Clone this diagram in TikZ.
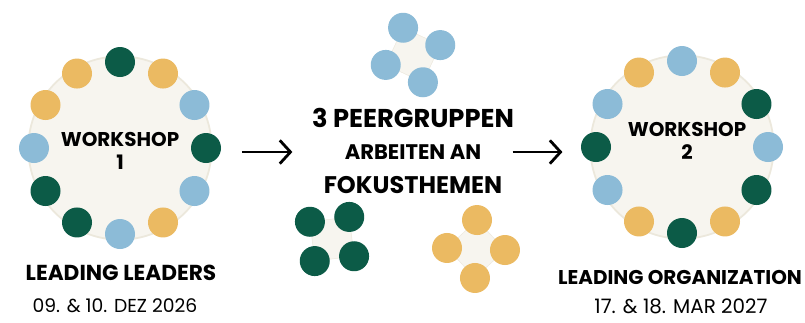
\documentclass[tikz,border=0pt]{standalone}
\usepackage{fontspec}
\setmainfont{Poppins}
\usetikzlibrary{positioning,arrows.meta}

\definecolor{dgreen}{HTML}{0C5B47}
\definecolor{lblue}{HTML}{8CBBD7}
\definecolor{myellow}{HTML}{EBBA62}
\definecolor{cream}{HTML}{F7F5EF}
\definecolor{ringc}{HTML}{ECE8DC}

\tikzset{
  dot/.style={circle, fill=#1, inner sep=0pt, minimum size=0.9cm},
  ringbg/.style={circle, draw=ringc, line width=1.5pt, fill=cream, inner sep=0pt, minimum size=5.5cm},
  arr/.style={line width=2.4pt, -{Straight Barb[length=3.2mm, width=7mm, line width=2.4pt]}},
  title/.style={font=\fontsize{#1}{#1}\selectfont\bfseries, inner sep=1pt},
  date/.style={font=\fontsize{#1}{#1}\selectfont, inner sep=1pt}
}

\begin{document}
\begin{tikzpicture}[x=0.03cm, y=-0.03cm]
      \useasboundingbox[fill=white] (0,0) rectangle (805,322);
      %
      % workshop 1
      \node[ringbg] (ws1) at (120,148) {};
      \foreach \c [count=\i] in {dgreen,myellow,lblue,dgreen,lblue,myellow,lblue,dgreen,dgreen,lblue,myellow,myellow}
        \node[dot=\c] (wa-\i) at ({120+86*cos(120-30*\i)},{148-86*sin(120-30*\i)}) {};
      \node[title=17, align=center] (ws1txt) at (120,151) {WORKSHOP\\[3pt]1};
      \node[title=18.5] (ws1name) at (121,273) {LEADING LEADERS};
      \node[date=16] (ws1date) at (115,306) {09. \& 10. DEZ 2026};
      %
      % workshop 2
      \node[ringbg] (ws2) at (682,147) {};
      \foreach \c [count=\i] in {lblue,myellow,dgreen,lblue,dgreen,myellow,dgreen,myellow,lblue,dgreen,lblue,myellow}
        \node[dot=\c] (wb-\i) at ({682+86*cos(120-30*\i)},{147-86*sin(120-30*\i)}) {};
      \node[title=17, align=center] (ws2txt) at (687,141) {WORKSHOP\\[3pt]2};
      \node[title=17] (ws2name) at (680,277) {LEADING ORGANIZATION};
      \node[date=17] (ws2date) at (681,306) {17. \& 18. MAR 2027};
      %
      % peer groups
      \fill[cream, draw=ringc] ({413+29*cos(20)},{55-29*sin(20)}) -- ({413+29*cos(110)},{55-29*sin(110)}) -- ({413+29*cos(200)},{55-29*sin(200)}) -- ({413+29*cos(290)},{55-29*sin(290)}) -- cycle;
      \foreach \a [count=\i] in {20,110,200,290}
        \node[dot=lblue] (pb-\i) at ({413+29*cos(\a)},{55-29*sin(\a)}) {};
      \fill[cream, draw=ringc] ({332+28*cos(52)},{239-28*sin(52)}) -- ({332+28*cos(142)},{239-28*sin(142)}) -- ({332+28*cos(232)},{239-28*sin(232)}) -- ({332+28*cos(322)},{239-28*sin(322)}) -- cycle;
      \foreach \a [count=\i] in {52,142,232,322}
        \node[dot=dgreen] (pg-\i) at ({332+28*cos(\a)},{239-28*sin(\a)}) {};
      \fill[cream, draw=ringc] ({476+29*cos(-2)},{249-29*sin(-2)}) -- ({476+29*cos(88)},{249-29*sin(88)}) -- ({476+29*cos(178)},{249-29*sin(178)}) -- ({476+29*cos(268)},{249-29*sin(268)}) -- cycle;
      \foreach \a [count=\i] in {-2,88,178,268}
        \node[dot=myellow] (py-\i) at ({476+29*cos(\a)},{249-29*sin(\a)}) {};
      %
      \node[title=22] (peer1) at (413,118) {3 PEERGRUPPEN};
      \node[title=18] (peer2) at (413,152) {ARBEITEN AN};
      \node[title=20.5] (peer3) at (413,185) {FOKUSTHEMEN};
      %
      \draw[arr, shorten <=0.88cm, shorten >=1.53cm] (ws1.east |- peer2) -- (peer2.west);
      \draw[arr, shorten <=0.9cm, shorten >=0.81cm] (peer2.east) -- (ws2.west |- peer2);
    \end{tikzpicture}
\end{document}
